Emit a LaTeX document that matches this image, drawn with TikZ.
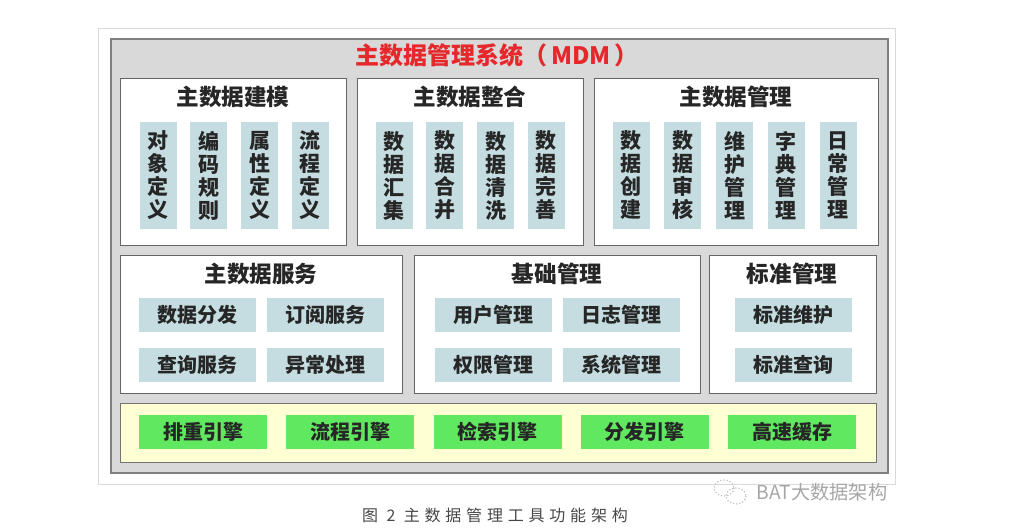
\documentclass[tikz,border=0pt]{standalone}
\usepackage{fontspec}
\setmainfont{Noto Sans CJK SC}
\usepackage{tikz}
\usetikzlibrary{positioning}
\usepackage{xcolor}
\definecolor{itemblue}{RGB}{197,221,225}
\definecolor{enginegreen}{RGB}{96,232,96}
\definecolor{bandyellow}{RGB}{255,255,212}
\definecolor{titlered}{RGB}{230,40,44}
\tikzstyle{frame} = [draw=black!15, fill=white, line width=0.6pt, anchor=north west, inner sep=0]
\tikzstyle{panel} = [draw=black!50, fill=black!15, line width=1pt, anchor=north west, inner sep=0]
\tikzstyle{group} = [draw=black!60, fill=white, line width=0.7pt, anchor=north west, inner sep=0]
\tikzstyle{band} = [draw=black!55, fill=bandyellow, line width=0.7pt, anchor=north west, inner sep=0]
\tikzstyle{head} = [inner sep=0, text=black!85, font=\bfseries\fontsize{11.3}{12}\selectfont]
\tikzstyle{vitem} = [fill=itemblue, minimum width=18.5pt, minimum height=53.5pt, inner sep=0, align=center, text=black!85, font=\bfseries\fontsize{10.5}{11.5}\selectfont]
\tikzstyle{hitem} = [fill=itemblue, minimum width=58.5pt, minimum height=17pt, inner sep=0, text=black!85, font=\bfseries\fontsize{10}{12}\selectfont]
\tikzstyle{engine} = [fill=enginegreen, minimum width=64pt, minimum height=17pt, inner sep=0, text=black!85, font=\bfseries\fontsize{10}{12}\selectfont]

\begin{document}
\begin{tikzpicture}[x=0.5pt, y=-0.5pt]
        \useasboundingbox (0,0) rectangle (1017,529);
        % frames
        \node[frame, minimum width=398.5pt, minimum height=228pt] (outer) at (98,28) {};
        \node[panel, minimum width=388.5pt, minimum height=217pt] (mdm) at (110,38) {};
        \node[inner sep=0, text=titlered, font=\bfseries\fontsize{12}{13}\selectfont] (title) at (497,55) {主数据管理系统（\,MDM\,）};
        % top row
        \node[group, minimum width=113pt, minimum height=83.5pt] (model) at (120,78) {};
        \node[group, minimum width=113pt, minimum height=83.5pt] (merge) at (357,78) {};
        \node[group, minimum width=142pt, minimum height=83.5pt] (manage) at (594,78) {};
        \node[head] (modelh) at (233,97) {主数据建模};
        \node[head] (mergeh) at (470,97) {主数据整合};
        \node[head] (manageh) at (736,97) {主数据管理};
        \node[vitem] (m1) at (158,175.5) {对\\象\\定\\义};
        \node[vitem, right=6.5pt of m1] (m2) {编\\码\\规\\则};
        \node[vitem, right=6.5pt of m2] (m3) {属\\性\\定\\义};
        \node[vitem, right=6.5pt of m3] (m4) {流\\程\\定\\义};
        \node[vitem] (g1) at (394,175.5) {数\\据\\汇\\集};
        \node[vitem, right=6.5pt of g1] (g2) {数\\据\\合\\并};
        \node[vitem, right=6.5pt of g2] (g3) {数\\据\\清\\洗};
        \node[vitem, right=6.5pt of g3] (g4) {数\\据\\完\\善};
        \node[vitem] (d1) at (631,175.5) {数\\据\\创\\建};
        \node[vitem, right=7pt of d1] (d2) {数\\据\\审\\核};
        \node[vitem, right=7pt of d2] (d3) {维\\护\\管\\理};
        \node[vitem, right=7pt of d3] (d4) {字\\典\\管\\理};
        \node[vitem, right=7pt of d4] (d5) {日\\常\\管\\理};
        % middle row
        \node[group, minimum width=141pt, minimum height=69pt] (service) at (120,255) {};
        \node[group, minimum width=143pt, minimum height=69pt] (base) at (414,255) {};
        \node[group, minimum width=83.5pt, minimum height=69pt] (std) at (709,255) {};
        \node[head] (serviceh) at (261,274) {主数据服务};
        \node[head] (baseh) at (557,274) {基础管理};
        \node[head] (stdh) at (792,274) {标准管理};
        \node[hitem] (s1) at (197,315) {数据分发};
        \node[hitem, right=5.5pt of s1] (s2) {订阅服务};
        \node[hitem, below=7.5pt of s1] (s3) {查询服务};
        \node[hitem, below=7.5pt of s2] (s4) {异常处理};
        \node[hitem] (b1) at (493,315) {用户管理};
        \node[hitem, right=5.5pt of b1] (b2) {日志管理};
        \node[hitem, below=7.5pt of b1] (b3) {权限管理};
        \node[hitem, below=7.5pt of b2] (b4) {系统管理};
        \node[hitem] (t1) at (793,315) {标准维护};
        \node[hitem, below=7.5pt of t1] (t2) {标准查询};
        % engines
        \node[band, minimum width=378pt, minimum height=29.5pt] (engines) at (120,403) {};
        \node[engine] (e1) at (203,432) {排重引擎};
        \node[engine, right=9.25pt of e1] (e2) {流程引擎};
        \node[engine, right=9.25pt of e2] (e3) {检索引擎};
        \node[engine, right=9.25pt of e3] (e4) {分发引擎};
        \node[engine, right=9.25pt of e4] (e5) {高速缓存};
        % caption and mark
        \node[inner sep=0, text=black!72, font=\fontsize{8}{9}\selectfont\addfontfeature{LetterSpace=30}] (caption) at (495,515) {图 2 主数据管理工具功能架构};
        \draw[black!25, densely dotted, line width=0.6pt] (724,488) ellipse (10 and 8) (736,496) ellipse (10 and 8);
        \node[inner sep=0, text=black!35, font=\fontsize{9.6}{10}\selectfont] (mark) at (822,492) {BAT大数据架构};
      \end{tikzpicture}
\end{document}
